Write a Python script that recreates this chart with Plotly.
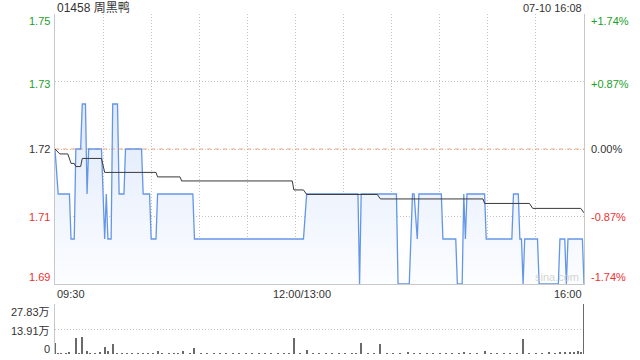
import plotly.graph_objects as go

# ---------------- data ----------------
title_text = "01458 周黑鸭"
stamp_text = "07-10 16:08"
prev_close = 1.72

# minutes since 09:30 (trading minutes, lunch break removed), price
price_minutes = [0, 2, 9, 10, 12, 13, 16, 17, 19, 20, 21, 29, 31, 32, 33, 35, 36, 39, 40, 43,
                 44, 54, 55, 59, 60, 63, 64, 86, 87, 155, 157, 189, 190, 191, 213, 214, 221,
                 223, 224, 226, 227, 241, 242, 250, 251, 254, 255, 256, 257, 268, 269, 285,
                 286, 289, 290, 291, 292, 293, 301, 302, 314, 315, 318, 319, 320, 329, 330]
price_values = [1.72, 1.71, 1.71, 1.70, 1.70, 1.72, 1.72, 1.73, 1.73, 1.71, 1.72, 1.72, 1.70,
                1.71, 1.70, 1.70, 1.73, 1.73, 1.71, 1.71, 1.72, 1.72, 1.71, 1.71, 1.70, 1.70,
                1.71, 1.71, 1.70, 1.70, 1.71, 1.71, 1.69, 1.71, 1.71, 1.69, 1.69, 1.71, 1.71,
                1.70, 1.71, 1.71, 1.70, 1.70, 1.69, 1.69, 1.71, 1.70, 1.71, 1.71, 1.70, 1.70,
                1.71, 1.71, 1.70, 1.70, 1.69, 1.70, 1.70, 1.69, 1.69, 1.70, 1.70, 1.69, 1.70,
                1.70, 1.69]

avg_minutes = [0, 3, 8, 10, 12, 13, 16, 17, 29, 31, 63, 64, 78, 79, 148, 149, 155, 157, 201,
               203, 267, 268, 296, 298, 328, 330]
avg_values = [1.7200, 1.7189, 1.7189, 1.7168, 1.7168, 1.7161, 1.7161, 1.7179, 1.7179, 1.7148,
              1.7148, 1.7138, 1.7138, 1.7129, 1.7129, 1.7109, 1.7109, 1.7099, 1.7099, 1.7089,
              1.7089, 1.7079, 1.7079, 1.7068, 1.7068, 1.7058]

# volume in 万 shares
vol_minutes = [0, 2, 4, 7, 9, 13, 15, 17, 20, 22, 25, 28, 31, 33, 36, 39, 42, 45, 48, 52, 55,
               58, 61, 64, 67, 71, 74, 77, 80, 84, 87, 91, 95, 99, 103, 107, 111, 115, 119, 123,
               127, 131, 135, 139, 143, 146, 149, 153, 157, 161, 165, 169, 173, 177, 181, 185,
               188, 191, 195, 199, 203, 207, 211, 215, 220, 224, 228, 232, 236, 240, 244, 248,
               252, 255, 259, 263, 268, 272, 276, 280, 284, 288, 292, 296, 300, 304, 308, 312,
               315, 318, 321, 324, 326, 328, 330]
vol_values = [6.3, 0.4, 0.5, 0.4, 0.6, 9.1, 0.4, 9.6, 1.8, 0.5, 0.4, 0.6, 3.7, 1.5, 5.6, 0.4,
              0.5, 0.4, 0.3, 0.5, 0.4, 0.4, 0.5, 1.7, 0.4, 0.3, 0.5, 0.4, 1.7, 0.4, 3.3, 0.5,
              0.4, 0.3, 0.4, 0.5, 0.4, 0.3, 0.4, 0.5, 0.4, 0.4, 0.3, 0.5, 0.4, 0.4, 8.7, 0.4,
              2.2, 0.5, 0.4, 0.3, 0.4, 0.5, 0.4, 0.3, 0.4, 6.3, 0.5, 0.4, 5.6, 0.4, 0.3, 0.5,
              1.2, 0.4, 0.5, 0.4, 0.3, 0.4, 0.5, 0.4, 0.4, 1.2, 0.5, 0.4, 1.8, 0.4, 0.3, 0.4,
              0.5, 0.4, 8.3, 0.4, 0.5, 0.4, 0.6, 0.5, 0.8, 1.0, 1.3, 0.9, 1.4, 1.1, 27.83]

left_labels = ["1.75", "1.73", "1.72", "1.71", "1.69"]
right_labels = ["+1.74%", "+0.87%", "0.00%", "-0.87%", "-1.74%"]
vol_labels = ["27.83万", "13.91万", "0"]
time_labels = ["09:30", "12:00/13:00", "16:00"]

# ---------------- layout helpers ----------------
W, H = 640, 360
ML, MR, MT, MB = 55, 56, 14, 6
PW, PH = W - ML - MR, H - MT - MB


def pxx(x):
    return (x - ML) / PW


def pyy(y):
    return (H - MB - y) / PH


GREEN = "rgb(26,160,40)"
RED = "rgb(238,48,48)"
DARK = "#333333"
FONT = "Arial, Liberation Sans, Noto Sans CJK SC, sans-serif"
GRID = "#c4c4c4"
GRIDDASH = "1px,2px"

fig = go.Figure()

# area fill under price line
fig.add_trace(go.Scatter(
    x=price_minutes, y=price_values, mode="lines", line=dict(width=0, color="rgba(0,0,0,0)"),
    fill="tozeroy",
    fillgradient=dict(type="vertical", start=1.69, stop=1.735,
                      colorscale=[[0, "rgba(252,253,255,1)"], [1, "rgba(220,231,251,1)"]]),
    hoverinfo="skip", showlegend=False, xaxis="x", yaxis="y"))

# previous close dashed line
fig.add_trace(go.Scatter(
    x=[0, 330], y=[prev_close, prev_close], mode="lines",
    line=dict(color="rgb(246,164,110)", width=1, dash="4px,4px"),
    hoverinfo="skip", showlegend=False, xaxis="x", yaxis="y"))

# price line
fig.add_trace(go.Scatter(
    x=price_minutes, y=price_values, mode="lines",
    line=dict(color="rgb(100,150,232)", width=1.3),
    showlegend=False, xaxis="x", yaxis="y"))

# average line
fig.add_trace(go.Scatter(
    x=avg_minutes, y=avg_values, mode="lines",
    line=dict(color="#3a3a3a", width=1),
    showlegend=False, xaxis="x", yaxis="y"))

# volume bars
fig.add_trace(go.Bar(
    x=vol_minutes, y=vol_values, width=0.7, marker=dict(color="#6a6a6a", line=dict(width=0)),
    cliponaxis=False, showlegend=False, xaxis="x2", yaxis="y2"))

top_dom0 = pyy(284)
vol_dom1 = pyy(304)

fig.update_layout(
    width=W, height=H, margin=dict(l=ML, r=MR, t=MT, b=MB),
    paper_bgcolor="white", plot_bgcolor="white",
    font=dict(family=FONT, size=11, color=DARK),
    bargap=0,
    xaxis=dict(domain=[0, 1], range=[0, 330], tickvals=list(range(0, 331, 30)),
               showticklabels=False, ticks="", showgrid=True, gridcolor=GRID,
               griddash=GRIDDASH, gridwidth=1, showline=True, linecolor="#c8c8c8",
               linewidth=1, zeroline=False, anchor="y"),
    yaxis=dict(domain=[top_dom0, 1], range=[1.69, 1.75], tickvals=[1.705, 1.72, 1.735],
               showticklabels=False, ticks="", showgrid=True, gridcolor=GRID,
               griddash=GRIDDASH, gridwidth=1, showline=True, mirror=True,
               linecolor="#c8c8c8", linewidth=1, zeroline=False, anchor="x"),
    xaxis2=dict(domain=[0, 1], range=[0, 330], showticklabels=False, ticks="",
                showgrid=False, showline=False, zeroline=False, anchor="y2"),
    yaxis2=dict(domain=[0, vol_dom1], range=[0, 27.83], tickvals=[13.91, 27.83],
                showticklabels=False, ticks="", showgrid=True, gridcolor=GRID,
                griddash=GRIDDASH, gridwidth=1, showline=True, linecolor="#c8c8c8",
                linewidth=1, zeroline=False, anchor="x2"),
)

ann = []


def add_text(text, x, y, xanchor, color=DARK, size=11):
    ann.append(dict(text=text, x=pxx(x), y=pyy(y), xref="paper", yref="paper",
                    xanchor=xanchor, yanchor="middle", showarrow=False,
                    font=dict(color=color, size=size, family=FONT)))


add_text(title_text, 55, 8, "left", DARK, 12)
add_text(stamp_text, 584, 8, "right", DARK, 11)

left_y = [21, 84, 149, 217, 277]
left_c = [GREEN, GREEN, DARK, RED, RED]
for t, y, c in zip(left_labels, left_y, left_c):
    add_text(t, 52, y, "right", c, 11)
for t, y, c in zip(right_labels, left_y, left_c):
    add_text(t, 589, y, "left", c, 11)

for t, y in zip(vol_labels, [312, 331, 349]):
    add_text(t, 52, y, "right", DARK, 11)

add_text(time_labels[0], 55, 294, "left", DARK, 11)
add_text(time_labels[1], 302, 294, "center", DARK, 11)
add_text(time_labels[2], 584, 294, "right", DARK, 11)

add_text("sina.com", 557, 277, "center", "rgba(200,200,200,0.8)", 11)

fig.update_layout(annotations=ann)

fig.write_html("out.html")
